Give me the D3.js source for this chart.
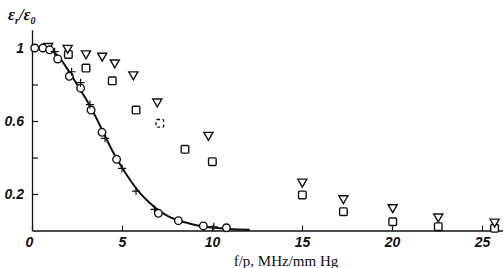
<!DOCTYPE html>
<html>
<head>
<meta charset="utf-8">
<script src="https://cdn.jsdelivr.net/npm/d3@7"></script>
<style>
    body { margin: 0; background: #fff; }
    svg { display: block; }
    .tick text { font-family: 'Liberation Sans', sans-serif; font-style: italic; font-weight: bold; font-size: 14px; fill: #111; }
    .tick line { stroke: #111; stroke-width: 1.2; }
</style>
</head>
<body>
<svg id="chart" width="503" height="268"></svg>
<script>
// curve (solid line)
const curveX = [0, 0.5, 1, 1.5, 2, 2.5, 3, 3.5, 4, 4.5, 5, 5.5, 6, 6.5, 7, 7.5, 8, 9, 10, 11, 12.1];
const curveY = [1.0, 1.0, 0.99, 0.95, 0.88, 0.80, 0.72, 0.63, 0.53, 0.43, 0.345, 0.27, 0.205, 0.155, 0.113, 0.082, 0.06, 0.032, 0.016, 0.008, 0.004];

// open circles
const circX = [0.15, 0.6, 0.98, 1.43, 2.07, 2.7, 3.28, 3.89, 4.7, 7.02, 8.13, 9.52, 10.8];
const circY = [1.0, 1.0, 0.99, 0.94, 0.845, 0.78, 0.66, 0.538, 0.39, 0.094, 0.054, 0.025, 0.015];

// crosses
const crossX = [1.26, 2.2, 2.7, 3.22, 4.06, 5.0, 5.78, 6.8, 10.1];
const crossY = [0.98, 0.87, 0.81, 0.69, 0.505, 0.34, 0.216, 0.116, 0.02];

// triangles (pointing down)
const triX = [0.9, 1.98, 3.0, 3.9, 4.6, 5.63, 6.96, 9.8, 15.02, 17.3, 20.04, 22.57, 25.7];
const triY = [1.01, 1.0, 0.97, 0.957, 0.92, 0.855, 0.706, 0.523, 0.267, 0.176, 0.127, 0.076, 0.048];

// squares
const sqX = [2.02, 3.0, 4.46, 5.78, 7.1, 8.5, 10.02, 15.02, 17.3, 20.04, 22.57, 25.7];
const sqY = [0.965, 0.89, 0.82, 0.66, 0.587, 0.445, 0.377, 0.195, 0.103, 0.048, 0.021, 0.012];

// ticks
const xTicks = [0, 5, 10, 15, 20, 25];
const yTicks = [0.2, 0.4, 0.6, 0.8, 1];
const yTickLabels = { 0.2: '0.2', 0.6: '0.6', 1: '1' };

const svg = d3.select('#chart');

const xScale = d3.scaleLinear().domain([0, 26.2]).range([32, 503.6]);
const yScale = d3.scaleLinear().domain([0, 1.1]).range([230.5, 29.75]);

const xAxis = d3.axisBottom(xScale)
    .tickValues(xTicks)
    .tickSizeInner(-5)
    .tickSizeOuter(0)
    .tickPadding(7)
    .tickFormat(d3.format('d'));

const yAxis = d3.axisLeft(yScale)
    .tickValues(yTicks)
    .tickSizeInner(-6)
    .tickSizeOuter(0)
    .tickPadding(8)
    .tickFormat(d => yTickLabels[d] || '');

const gx = svg.append('g')
    .attr('transform', `translate(0,${yScale(0)})`)
    .call(xAxis);
gx.select('.domain').attr('stroke', '#111').attr('stroke-width', 1.3);
gx.selectAll('.tick').filter(d => d === 0).select('text').attr('dx', -3);

const gy = svg.append('g')
    .attr('transform', `translate(${xScale(0)},0)`)
    .call(yAxis);
gy.select('.domain').attr('stroke', '#111').attr('stroke-width', 1.3);

// axis titles
const yl = svg.append('text')
    .attr('x', 8)
    .attr('y', 20)
    .attr('font-family', 'Liberation Serif, serif')
    .attr('font-style', 'italic')
    .attr('font-weight', 'bold')
    .attr('font-size', 17)
    .attr('fill', '#111');
yl.append('tspan').text('ε');
yl.append('tspan').attr('font-size', 10).attr('dy', 4).text('r');
yl.append('tspan').attr('dy', -4).text('/ε');
yl.append('tspan').attr('font-size', 10).attr('dy', 4).text('0');

svg.append('text')
    .attr('x', 286)
    .attr('y', 266)
    .attr('text-anchor', 'middle')
    .attr('font-family', 'Liberation Serif, serif')
    .attr('font-size', 15)
    .attr('fill', '#111')
    .text('f/p, MHz/mm Hg');

// line
const line = d3.line()
    .x(d => xScale(d[0]))
    .y(d => yScale(d[1]))
    .curve(d3.curveMonotoneX);

svg.append('path')
    .datum(d3.zip(curveX, curveY))
    .attr('d', line)
    .attr('fill', 'none')
    .attr('stroke', '#111')
    .attr('stroke-width', 2);

const markers = svg.append('g')
    .attr('fill', 'none')
    .attr('stroke', '#111')
    .attr('stroke-width', 1.4);

markers.selectAll('.sq')
    .data(d3.zip(sqX, sqY))
    .join('rect')
    .attr('class', 'sq')
    .attr('x', d => xScale(d[0]) - 3.8)
    .attr('y', d => yScale(d[1]) - 3.8)
    .attr('width', 7.6)
    .attr('height', 7.6)
    .attr('rx', 1)
    .attr('fill', '#fff')
    .attr('stroke-dasharray', (d, i) => i === 4 ? '3,2.5' : null);

const tri = d3.symbol().type(d3.symbolTriangle).size(36);
markers.selectAll('.tri')
    .data(d3.zip(triX, triY))
    .join('path')
    .attr('class', 'tri')
    .attr('d', tri)
    .attr('fill', '#fff')
    .attr('transform', d => `translate(${xScale(d[0])},${yScale(d[1])}) rotate(180)`);

markers.selectAll('.circ')
    .data(d3.zip(circX, circY))
    .join('circle')
    .attr('class', 'circ')
    .attr('cx', d => xScale(d[0]))
    .attr('cy', d => yScale(d[1]))
    .attr('r', 3.8)
    .attr('fill', '#fff');

markers.selectAll('.cross')
    .data(d3.zip(crossX, crossY))
    .join('path')
    .attr('class', 'cross')
    .attr('d', d => {
        const x = xScale(d[0]), y = yScale(d[1]);
        return `M${x - 4},${y}L${x + 4},${y}M${x},${y - 4}L${x},${y + 4}`;
    })
    .attr('stroke-width', 1.2);
</script>
</body>
</html>
